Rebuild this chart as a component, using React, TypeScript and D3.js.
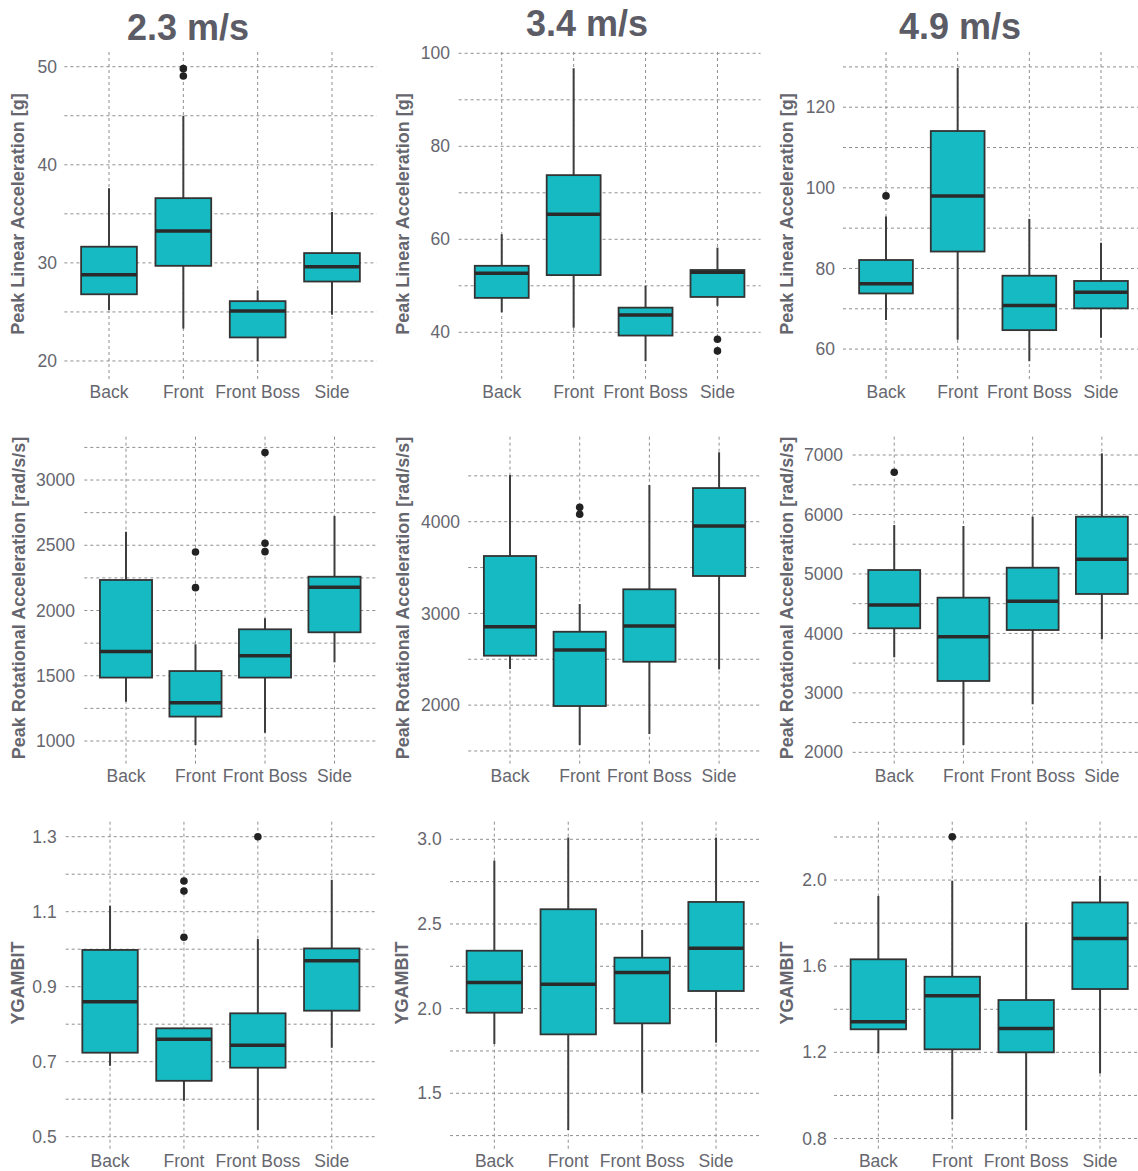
import React, { useEffect, useRef } from "react";
import * as d3 from "d3";

const categories = ["Back", "Front", "Front Boss", "Side"];
const speedTitles = ["2.3 m/s", "3.4 m/s", "4.9 m/s"];
const metricTitles = [
  "Peak Linear Acceleration [g]",
  "Peak Rotational Acceleration [rad/s/s]",
  "YGAMBIT",
];

// box stats per category: [lower whisker, Q1, median, Q3, upper whisker]
const linear23 = [[25.2, 26.8, 28.8, 31.65, 37.6], [23.3, 29.7, 33.25, 36.6, 45.0], [20.0, 22.4, 25.1, 26.1, 27.2], [24.7, 28.1, 29.6, 31.0, 35.2]];
const linear34 = [[44.3, 47.4, 52.7, 54.3, 61.1], [41.0, 52.3, 65.4, 73.8, 96.8], [33.8, 39.3, 43.7, 45.3, 50.0], [45.7, 47.6, 52.9, 53.4, 58.2]];
const linear49 = [[67.2, 73.8, 76.2, 82.1, 92.9], [62.3, 84.2, 98.0, 114.1, 129.7], [57.0, 64.7, 70.8, 78.2, 92.3], [62.8, 70.1, 74.1, 76.9, 86.4]];
const rot23 = [[1301, 1486, 1685, 2234, 2604], [969, 1187, 1294, 1536, 1741], [1064, 1486, 1654, 1856, 1940], [1603, 1833, 2178, 2259, 2724]];
const rot34 = [[2394, 2539, 2855, 3626, 4509], [1565, 1990, 2601, 2800, 3103], [1685, 2473, 2863, 3263, 4400], [2390, 3408, 3953, 4367, 4757]];
const rot49 = [[3598, 4086, 4478, 5066, 5823], [2124, 3200, 3945, 4601, 5806], [2808, 4057, 4540, 5105, 5963], [3901, 4663, 5246, 5963, 7028]];
const ygambit23 = [[0.689, 0.724, 0.86, 0.998, 1.116], [0.596, 0.649, 0.76, 0.789, 0.789], [0.518, 0.684, 0.744, 0.829, 1.027], [0.737, 0.836, 0.969, 1.002, 1.185]];
const ygambit34 = [[1.791, 1.976, 2.155, 2.342, 2.874], [1.283, 1.848, 2.144, 2.587, 3.01], [1.503, 1.913, 2.214, 2.301, 2.464], [1.799, 2.104, 2.356, 2.63, 3.01]];
const ygambit49 = [[1.195, 1.307, 1.342, 1.632, 1.926], [0.889, 1.214, 1.463, 1.551, 1.997], [0.839, 1.2, 1.311, 1.443, 1.804], [1.102, 1.494, 1.729, 1.896, 2.019]];

// outliers per category
const linear23Out = [[], [49.8, 49.05], [], []];
const linear34Out = [[], [], [], [38.5, 36.0]];
const linear49Out = [[98.0], [], [], []];
const rot23Out = [[], [2448, 2175], [3210, 2515, 2451], []];
const rot34Out = [[], [4157, 4081], [], []];
const rot49Out = [[6709], [], [], []];
const ygambit23Out = [[], [1.182, 1.155, 1.032], [1.3], []];
const ygambit34Out = [[], [], [], []];
const ygambit49Out = [[], [2.201], [], []];

// y tick labels
const linearTicks23 = [20, 30, 40, 50];
const linearTicks34 = [40, 60, 80, 100];
const linearTicks49 = [60, 80, 100, 120];
const rotTicks23 = [1000, 1500, 2000, 2500, 3000];
const rotTicks34 = [2000, 3000, 4000];
const rotTicks49 = [2000, 3000, 4000, 5000, 6000, 7000];
const ygambitTicks23 = [0.5, 0.7, 0.9, 1.1, 1.3];
const ygambitTicks34 = [1.5, 2.0, 2.5, 3.0];
const ygambitTicks49 = [0.8, 1.2, 1.6, 2.0];

const panels = [
  { row: 0, col: 0, stats: linear23, out: linear23Out, ticks: linearTicks23, domain: [18.06, 51.5], x0: 64.4, x1: 376.6, labelX: 57, titleX: 24 },
  { row: 0, col: 1, stats: linear34, out: linear34Out, ticks: linearTicks34, domain: [29.74, 100.28], x0: 458.6, x1: 760.6, labelX: 450, titleX: 409 },
  { row: 0, col: 2, stats: linear49, out: linear49Out, ticks: linearTicks49, domain: [52.33, 133.7], x0: 843, x1: 1144, labelX: 835, titleX: 793 },
  { row: 1, col: 0, stats: rot23, out: rot23Out, ticks: rotTicks23, domain: [816, 3332], x0: 84.3, x1: 376.2, labelX: 75, titleX: 25 },
  { row: 1, col: 1, stats: rot34, out: rot34Out, ticks: rotTicks34, domain: [1347, 4927], x0: 468.2, x1: 760.9, labelX: 460, titleX: 409 },
  { row: 1, col: 2, stats: rot49, out: rot49Out, ticks: rotTicks49, domain: [1787, 7308], x0: 852.7, x1: 1143.4, labelX: 843, titleX: 793 },
  { row: 2, col: 0, stats: ygambit23, out: ygambit23Out, ticks: ygambitTicks23, domain: [0.4645, 1.34], x0: 65.7, x1: 376.1, labelX: 56.7, titleX: 24 },
  { row: 2, col: 1, stats: ygambit34, out: ygambit34Out, ticks: ygambitTicks34, domain: [1.165, 3.104], x0: 450, x1: 760.4, labelX: 441.7, titleX: 408 },
  { row: 2, col: 2, stats: ygambit49, out: ygambit49Out, ticks: ygambitTicks49, domain: [0.7465, 2.271], x0: 834, x1: 1144.4, labelX: 826.7, titleX: 793 },
];

const rowTop = [52, 436.7, 821.7];
const rowBottom = [380, 765, 1150];
const rowLabelY = [398, 781.5, 1166.5];
const rowTitleY = [214, 598, 983];
const headX = [188, 587, 960];
const headY = [40, 36, 39];

const FILL = "#16BAC2";
const GRID = "#8f8f8f";

function App() {
  const ref = useRef(null);

  useEffect(() => {
    const svg = d3.select(ref.current);
    svg.selectAll("*").remove();
    svg.append("rect").attr("width", 1138).attr("height", 1171).attr("fill", "white");

    panels.forEach((p) => {
      const top = rowTop[p.row];
      const bottom = rowBottom[p.row];
      const g = svg.append("g");

      const x = d3.scalePoint().domain(categories).range([p.x0, p.x1]).padding(0.6);
      const y = d3.scaleLinear().domain(p.domain).range([bottom, top]);
      const bw = x.step() * 0.75;
      const isYg = p.row === 2;
      const fmt = isYg ? d3.format(".1f") : d3.format("d");

      // major + minor grid lines
      const step = p.ticks[1] - p.ticks[0];
      const gridVals = [];
      for (let v = p.ticks[0] - step * 2; v <= p.domain[1]; v += step / 2) {
        if (y(v) < bottom - 3 && y(v) > top - 1) gridVals.push(v);
      }
      g.selectAll(".hgrid")
        .data(gridVals)
        .enter()
        .append("line")
        .attr("x1", p.x0)
        .attr("x2", p.x1)
        .attr("y1", (d) => y(d))
        .attr("y2", (d) => y(d))
        .attr("stroke", GRID)
        .attr("stroke-width", 1)
        .attr("stroke-dasharray", "3,3");

      g.selectAll(".vgrid")
        .data(categories)
        .enter()
        .append("line")
        .attr("x1", (d) => x(d))
        .attr("x2", (d) => x(d))
        .attr("y1", top)
        .attr("y2", bottom)
        .attr("stroke", GRID)
        .attr("stroke-width", 1)
        .attr("stroke-dasharray", "3,3");

      // whiskers
      const boxes = categories.map((c, i) => ({ c, s: p.stats[i], o: p.out[i] }));
      g.selectAll(".whisker")
        .data(boxes)
        .enter()
        .append("line")
        .attr("x1", (d) => x(d.c))
        .attr("x2", (d) => x(d.c))
        .attr("y1", (d) => y(d.s[0]))
        .attr("y2", (d) => y(d.s[4]))
        .attr("stroke", "#3d3d3d")
        .attr("stroke-width", 2);

      g.selectAll(".box")
        .data(boxes)
        .enter()
        .append("rect")
        .attr("x", (d) => x(d.c) - bw / 2)
        .attr("width", bw)
        .attr("y", (d) => y(d.s[3]))
        .attr("height", (d) => y(d.s[1]) - y(d.s[3]))
        .attr("fill", FILL)
        .attr("stroke", "#333")
        .attr("stroke-width", 1.8);

      g.selectAll(".median")
        .data(boxes)
        .enter()
        .append("line")
        .attr("x1", (d) => x(d.c) - bw / 2)
        .attr("x2", (d) => x(d.c) + bw / 2)
        .attr("y1", (d) => y(d.s[2]))
        .attr("y2", (d) => y(d.s[2]))
        .attr("stroke", "#2a2a2a")
        .attr("stroke-width", 3.5);

      boxes.forEach((b) => {
        g.selectAll(null)
          .data(b.o)
          .enter()
          .append("circle")
          .attr("cx", x(b.c))
          .attr("cy", (d) => y(d))
          .attr("r", 3.8)
          .attr("fill", "#222");
      });

      // y tick labels
      g.selectAll(".ytick")
        .data(p.ticks)
        .enter()
        .append("text")
        .attr("x", p.labelX)
        .attr("y", (d) => y(d))
        .attr("dy", "0.35em")
        .attr("text-anchor", "end")
        .attr("font-family", "Liberation Sans, Arial, sans-serif")
        .attr("font-size", 17.5)
        .attr("fill", "#66666e")
        .text((d) => fmt(d));

      // x tick labels
      g.selectAll(".xtick")
        .data(categories)
        .enter()
        .append("text")
        .attr("x", (d) => x(d))
        .attr("y", rowLabelY[p.row])
        .attr("text-anchor", "middle")
        .attr("font-family", "Liberation Sans, Arial, sans-serif")
        .attr("font-size", 17.5)
        .attr("fill", "#66666e")
        .text((d) => d);

      // axis title
      g.append("text")
        .attr("transform", `translate(${p.titleX},${rowTitleY[p.row]}) rotate(-90)`)
        .attr("text-anchor", "middle")
        .attr("font-family", "Liberation Sans, Arial, sans-serif")
        .attr("font-weight", "bold")
        .attr("font-size", 18)
        .attr("fill", "#66666e")
        .text(metricTitles[p.row]);
    });

    svg
      .selectAll(".head")
      .data(speedTitles)
      .enter()
      .append("text")
      .attr("x", (d, i) => headX[i])
      .attr("y", (d, i) => headY[i])
      .attr("text-anchor", "middle")
      .attr("font-family", "Liberation Sans, Arial, sans-serif")
      .attr("font-weight", "bold")
      .attr("font-size", 36)
      .attr("fill", "#5c5c66")
      .text((d) => d);
  }, []);

  return (
    <svg
      ref={ref}
      width={1138}
      height={1171}
      style={{ position: "absolute", left: 0, top: 0 }}
    />
  );
}

export default App;
